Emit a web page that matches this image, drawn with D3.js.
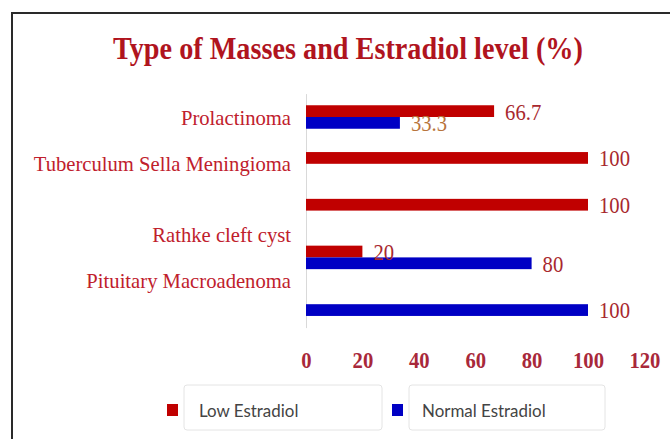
<!DOCTYPE html>
<html>
<head>
<meta charset="utf-8">
<script src="https://cdn.jsdelivr.net/npm/d3@7"></script>
<style>
  body { margin: 0; background: #fff; }
</style>
</head>
<body>
<div id="chart-container"></div>
<script>
// chart data
const categories = ["Prolactinoma", "Tuberculum Sella Meningioma", "", "Rathke cleft cyst", "Pituitary Macroadenoma"];
const lowEstradiol = [66.7, 100, 100, 20, 0];
const normalEstradiol = [33.3, 0, 0, 80, 100];
const seriesNames = ["Low Estradiol", "Normal Estradiol"];
const xTicks = [0, 20, 40, 60, 80, 100, 120];

const W = 670, H = 439;

const svg = d3.select("#chart-container")
    .append("svg")
    .attr("width", W)
    .attr("height", H);

// squeeze text horizontally a bit (source font is a condensed serif)
function condense(sel, k) {
    sel.each(function() {
        const len = this.getComputedTextLength();
        d3.select(this)
            .attr("textLength", len * k)
            .attr("lengthAdjust", "spacingAndGlyphs");
    });
}

// outer frame
svg.append("rect")
    .attr("x", 12).attr("y", 13)
    .attr("width", 700).attr("height", 500)
    .attr("fill", "#fff")
    .attr("stroke", "#2a2a2a")
    .attr("stroke-width", 2);

// Title
svg.append("text")
    .attr("x", 348)
    .attr("y", 59)
    .attr("text-anchor", "middle")
    .attr("textLength", 470)
    .attr("lengthAdjust", "spacingAndGlyphs")
    .style("font-family", "'Liberation Serif', serif")
    .style("font-size", "31px")
    .style("font-weight", "bold")
    .style("fill", "#b0141e")
    .text("Type of Masses and Estradiol level (%)");

const colors = { "Low Estradiol": "#c00000", "Normal Estradiol": "#0000c4" };

const x = d3.scaleLinear().domain([0, 120]).range([306, 306 + 120 * 2.82]);

const y = d3.scaleBand()
    .domain(d3.range(categories.length))
    .range([93.6, 327.6])
    .paddingInner(0.498)
    .paddingOuter(0.249);

const ySub = d3.scaleBand()
    .domain(seriesNames)
    .range([0, y.bandwidth()]);

const rows = categories.map((c, i) => ({
    i: i,
    label: c,
    values: [
        { key: "Low Estradiol", value: lowEstradiol[i] },
        { key: "Normal Estradiol", value: normalEstradiol[i] }
    ]
}));

// vertical axis line
svg.append("g")
    .attr("transform", `translate(${x(0)},0)`)
    .call(d3.axisLeft(y).tickSize(0).tickFormat(""))
    .call(g => g.select(".domain").attr("stroke", "#d9d9d9"));

// Category labels (the last two sit between groups in the source)
svg.selectAll(".cat-label")
    .data(rows.filter(d => d.label !== ""))
    .enter()
    .append("text")
    .attr("class", "cat-label")
    .attr("x", 291)
    .attr("y", d => y(d.i) + y.bandwidth() / 2 - (d.i >= 3 ? y.step() / 2 : 0))
    .attr("dy", "0.35em")
    .attr("text-anchor", "end")
    .style("font-family", "'Liberation Serif', serif")
    .style("font-size", "21.5px")
    .style("fill", "#c0202c")
    .text(d => d.label)
    .call(condense, 0.96);

// bars
const groups = svg.selectAll(".group")
    .data(rows)
    .enter()
    .append("g")
    .attr("class", "group")
    .attr("transform", d => `translate(0,${y(d.i)})`);

groups.selectAll("rect")
    .data(d => d.values.filter(v => v.value > 0))
    .enter()
    .append("rect")
    .attr("x", x(0))
    .attr("y", v => ySub(v.key))
    .attr("width", v => x(v.value) - x(0))
    .attr("height", ySub.bandwidth())
    .attr("fill", v => colors[v.key]);

// value labels
groups.selectAll(".val")
    .data(d => d.values.filter(v => v.value > 0))
    .enter()
    .append("text")
    .attr("class", "val")
    .attr("x", v => x(v.value) + 11)
    .attr("y", v => ySub(v.key) + ySub.bandwidth() / 2)
    .attr("dy", "0.35em")
    .style("font-family", "'Liberation Serif', serif")
    .style("font-size", "24px")
    .style("fill", v => v.value === 33.3 ? "#b8743c" : "#a8282e")
    .text(v => v.value)
    .call(condense, 0.86);

// X axis tick labels
svg.append("g")
    .attr("transform", "translate(0,351)")
    .call(d3.axisBottom(x).tickValues(xTicks).tickSize(0).tickPadding(0))
    .call(g => g.select(".domain").remove())
    .call(g => g.selectAll("text")
        .style("font-family", "'Liberation Serif', serif")
        .style("font-size", "24px")
        .style("font-weight", "bold")
        .style("fill", "#a8283a")
        .call(condense, 0.86));

// Legend
const legendItems = [
    { name: seriesNames[0], sq: 167, box: 184, w: 198, tx: 199 },
    { name: seriesNames[1], sq: 392, box: 409, w: 196, tx: 422 }
];

const legend = svg.selectAll(".legend")
    .data(legendItems)
    .enter()
    .append("g")
    .attr("class", "legend");

legend.append("rect")
    .attr("x", d => d.box)
    .attr("y", 385)
    .attr("width", d => d.w)
    .attr("height", 45)
    .attr("rx", 3)
    .attr("fill", "#fff")
    .attr("stroke", "#e4e4e4");

legend.append("rect")
    .attr("x", d => d.sq)
    .attr("y", 404)
    .attr("width", 11)
    .attr("height", 12)
    .attr("fill", d => colors[d.name]);

legend.append("text")
    .attr("x", d => d.tx)
    .attr("y", 417)
    .style("font-family", "Lato, sans-serif")
    .style("font-size", "18px")
    .style("fill", "#444")
    .text(d => d.name)
    .call(condense, 0.94);
</script>
</body>
</html>
